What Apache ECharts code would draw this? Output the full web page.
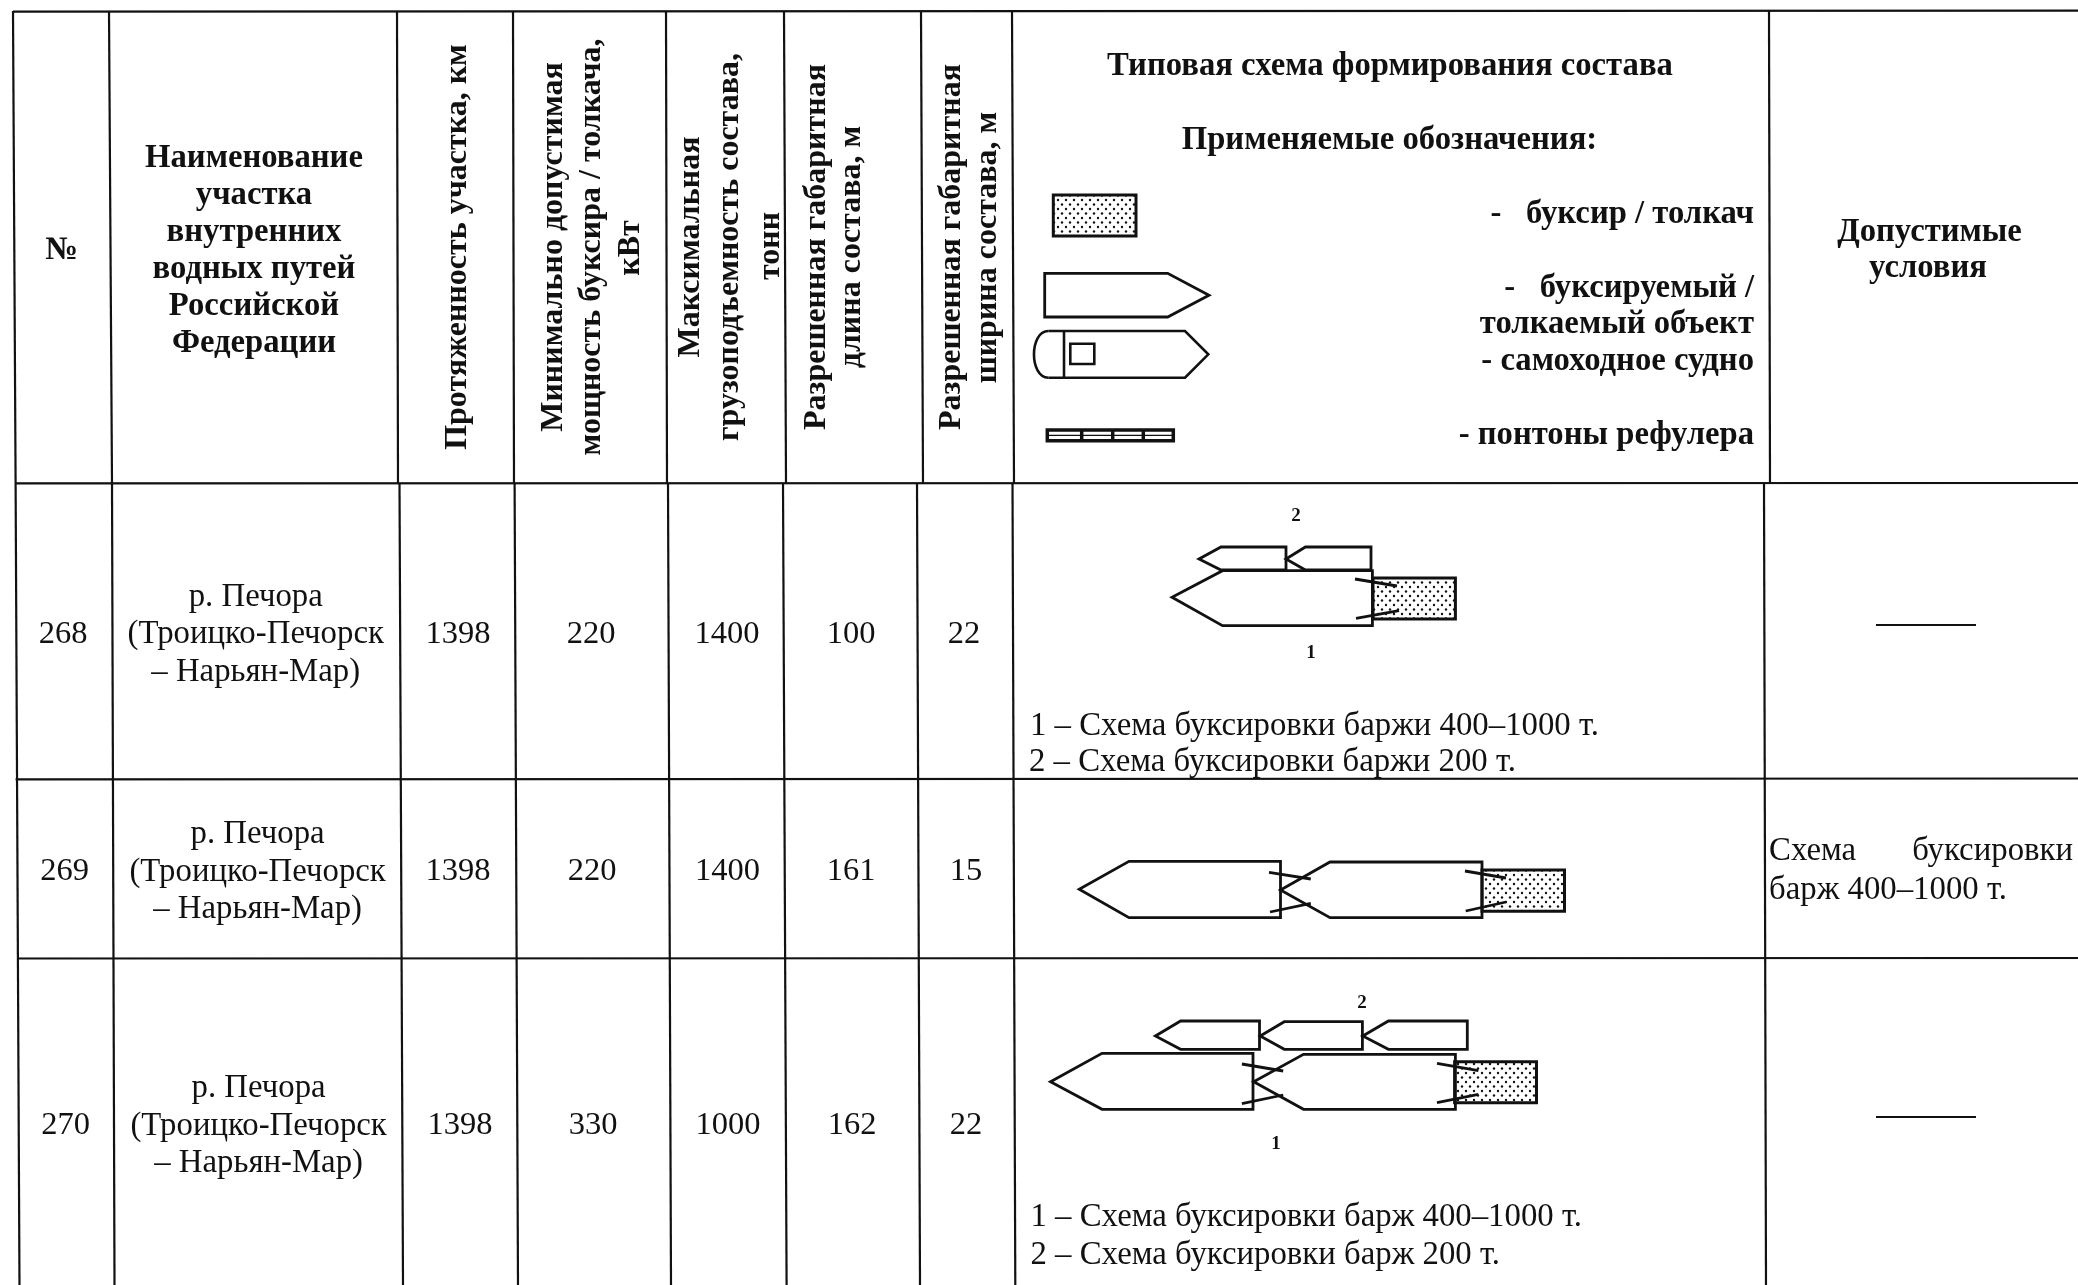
<!DOCTYPE html>
<html>
<head>
<meta charset="utf-8">
<title>Типовая схема формирования состава</title>
<script src="https://cdn.jsdelivr.net/npm/echarts@6/dist/echarts.min.js"></script>
<style>
html, body { margin: 0; padding: 0; background: #fff; }
#chart { width: 2078px; height: 1285px; }
</style>
</head>
<body>
<div id="chart"></div>
<script>
// table content
var rowNumbers = ['268', '269', '270'];
var sectionLines = ['р. Печора', '(Троицко-Печорск', '– Нарьян-Мар)'];
var lengthKm = ['1398', '1398', '1398'];
var minPower = ['220', '220', '330'];
var maxTonnage = ['1400', '1400', '1000'];
var allowedLength = ['100', '161', '162'];
var allowedWidth = ['22', '15', '22'];
var headerName = ['Наименование', 'участка', 'внутренних', 'водных путей', 'Российской', 'Федерации'];
var headerVertical = [
  'Протяженность участка, км',
  'Минимально допустимая', 'мощность буксира / толкача,', 'кВт',
  'Максимальная', 'грузоподъемность состава,', 'тонн',
  'Разрешенная габаритная', 'длина состава, м',
  'Разрешенная габаритная', 'ширина состава, м'
];
var headerAllowed = ['Допустимые', 'условия'];
var legendLabels = ['-   буксир / толкач', '-   буксируемый /', 'толкаемый объект', '- самоходное судно', '- понтоны рефулера'];
var schemeNotes = [
  '1 – Схема буксировки баржи 400–1000 т.', '2 – Схема буксировки баржи 200 т.',
  '1 – Схема буксировки барж 400–1000 т.', '2 – Схема буксировки барж 200 т.'
];

// layout of the sheet, in sheet units (axis values)
var rowY = [634, 871.5, 1125.5];
var rowColumnX = [
  [63, 255.7, 458, 591, 727, 851, 964],
  [64.5, 257.6, 458, 592, 727.5, 851, 966],
  [65.7, 258.6, 460, 593, 728, 852, 966]
];
var verticalX = [458, 554, 591.5, 630.5, 691, 730, 771, 817, 852, 951.5, 988];
var verticalY = [247, 247, 247, 248, 247, 247, 246, 247, 247, 247, 247.5];
var headerNameY = [158.5, 195.5, 232.5, 269.5, 306.5, 343.5];
var legendLabelY = [215, 289, 324.5, 362, 436];
var noteAnchors = [[1030, 726], [1029, 762], [1030.5, 1217.5], [1030.5, 1255]];

// rules: x1, y1, x2, y2
var tableRules = [
  [13, 11.7, 2078, 10.7], [15, 483.3, 2078, 483], [15.6, 779.3, 2078, 778.5], [17, 958.5, 2078, 958],
  [13, 11, 15.6, 483], [109, 11, 112, 483], [397, 11, 398, 483], [513, 11, 514, 483],
  [666, 11, 667, 483], [784, 11, 786, 483], [921, 11, 923, 483], [1012, 11, 1014, 483], [1769, 11, 1770, 483],
  [15.6, 483, 19.5, 1285], [112, 483, 114.5, 1285], [399.5, 483, 403, 1285], [514.6, 483, 518, 1285],
  [668, 483, 671, 1285], [783, 483, 786.6, 1285], [917, 483, 920, 1285], [1012.5, 483, 1015.3, 1285],
  [1764, 483, 1766, 1285]
];
var dashes = [[1876, 625, 1976, 625], [1876, 1117, 1976, 1117]];

// barges: tipX, tipY, shoulderX, sternX, topY, bottomY
var barges = [
  [1209, 295.3, 1167.7, 1044.7, 273.3, 317],
  [1172, 597.3, 1222.5, 1372.4, 570.7, 625.7],
  [1199, 559, 1221, 1286, 547, 570],
  [1286, 559, 1305.4, 1371, 547, 570],
  [1079.2, 889.3, 1129, 1280.5, 861.3, 917.7],
  [1280.5, 890, 1330, 1482, 862, 917.7],
  [1050.5, 1081.7, 1102, 1253, 1053.3, 1109.3],
  [1253.7, 1081.7, 1303.5, 1455.4, 1054.3, 1109.3],
  [1155.4, 1036, 1180.6, 1259.5, 1021, 1049.3],
  [1260.2, 1036, 1284.3, 1362.4, 1021.7, 1049.3],
  [1362.8, 1036, 1388.4, 1467.3, 1021, 1049.3]
];
// tugs: left, top, right, bottom
var tugs = [
  [1053.3, 195, 1136, 236],
  [1373, 578, 1455.4, 619],
  [1482, 870, 1564.5, 911.3],
  [1454.6, 1061.7, 1536.5, 1102.7]
];
var cables = [
  [1355, 579, 1397, 586], [1356, 618.3, 1399, 610.7],
  [1269, 872.3, 1310.8, 879], [1270, 912, 1310.8, 903.3], [1465, 871, 1506, 878], [1465.7, 911, 1506, 902],
  [1241.9, 1064, 1283.2, 1071], [1241.9, 1103.7, 1283.2, 1095], [1437, 1063.3, 1478.4, 1070.7], [1437, 1102.7, 1478.4, 1094.3]
];
var schemeMarks = [['2', 1296, 516], ['1', 1311, 653], ['2', 1362, 1003], ['1', 1276, 1144]];

var INK = '#111';
var FONT = '"Liberation Serif", "Times New Roman", serif';
var SIZE_HEAD = 32.7, SIZE_VERT = 32, SIZE_BODY = 32.8, SIZE_NUM = 32.5;

// dotted fill of the tug
function dotPattern() {
  var c = document.createElement('canvas');
  c.width = 8; c.height = 9;
  var g = c.getContext('2d');
  g.fillStyle = '#fff';
  g.fillRect(0, 0, 8, 9);
  g.fillStyle = '#111';
  g.beginPath(); g.arc(2, 2, 1.2, 0, Math.PI * 2); g.fill();
  g.beginPath(); g.arc(6, 6.5, 1.2, 0, Math.PI * 2); g.fill();
  return c;
}
var dots = dotPattern();

// flat list of text items: text, x, y, font size, weight, align, rotated
var textItems = [];
function addText(t, x, y, size, weight, align, rot) {
  textItems.push([t, x, y, size, weight, align || 'center', rot ? 1 : 0]);
}
addText('№', 62, 251, SIZE_HEAD, 'bold');
headerName.forEach(function (t, i) { addText(t, 254, headerNameY[i], SIZE_HEAD, 'bold'); });
headerVertical.forEach(function (t, i) { addText(t, verticalX[i], verticalY[i], SIZE_VERT, 'bold', 'center', true); });
addText('Типовая схема формирования состава', 1390, 67, SIZE_HEAD, 'bold');
addText('Применяемые обозначения:', 1389.5, 141, SIZE_HEAD, 'bold');
legendLabels.forEach(function (t, i) { addText(t, 1754, legendLabelY[i], SIZE_HEAD, 'bold', 'right'); });
addText(headerAllowed[0], 1929.5, 232.5, SIZE_HEAD, 'bold');
addText(headerAllowed[1], 1928, 269, SIZE_HEAD, 'bold');
rowNumbers.forEach(function (n, r) {
  var xs = rowColumnX[r], y = rowY[r];
  addText(n, xs[0], y, SIZE_NUM);
  sectionLines.forEach(function (t, i) { addText(t, xs[1], y + 0.6 + (i - 1) * 37.3, SIZE_BODY); });
  addText(lengthKm[r], xs[2], y, SIZE_NUM);
  addText(minPower[r], xs[3], y, SIZE_NUM);
  addText(maxTonnage[r], xs[4], y, SIZE_NUM);
  addText(allowedLength[r], xs[5], y, SIZE_NUM);
  addText(allowedWidth[r], xs[6], y, SIZE_NUM);
});
schemeNotes.forEach(function (t, i) { addText(t, noteAnchors[i][0], noteAnchors[i][1], SIZE_BODY, 'normal', 'left'); });
schemeMarks.forEach(function (m) { addText(m[0], m[1], m[2], 19, 'bold'); });
addText('Схема', 1769, 851, SIZE_BODY, 'normal', 'left');
addText('буксировки', 2073, 851, SIZE_BODY, 'normal', 'right');
addText('барж 400–1000 т.', 1769, 890, SIZE_BODY, 'normal', 'left');

function ruleSeries(list, width) {
  return {
    type: 'custom', silent: true, data: list.map(function (_, i) { return [i]; }),
    encode: { x: 0 },
    renderItem: function (params, api) {
      var r = list[params.dataIndex];
      var a = api.coord([r[0], r[1]]), b = api.coord([r[2], r[3]]);
      return { type: 'line', shape: { x1: a[0], y1: a[1], x2: b[0], y2: b[1] }, style: { stroke: INK, lineWidth: width, fill: null } };
    }
  };
}

var option = {
  animation: false,
  backgroundColor: '#fff',
  grid: { left: 0, right: 0, top: 0, bottom: 0 },
  xAxis: { type: 'value', min: 0, max: 2078, show: false },
  yAxis: { type: 'value', min: 0, max: 1285, inverse: true, show: false },
  series: [
    ruleSeries(tableRules, 2.2),
    ruleSeries(dashes, 2),
    {
      type: 'custom', silent: true, data: tugs.map(function (_, i) { return [i]; }),
      renderItem: function (params, api) {
        var t = tugs[params.dataIndex];
        var a = api.coord([t[0], t[1]]), b = api.coord([t[2], t[3]]);
        return {
          type: 'rect', shape: { x: a[0], y: a[1], width: b[0] - a[0], height: b[1] - a[1] },
          style: { fill: { image: dots, repeat: 'repeat' }, stroke: INK, lineWidth: 3 }
        };
      }
    },
    {
      type: 'custom', silent: true, data: barges.map(function (_, i) { return [i]; }),
      renderItem: function (params, api) {
        var b = barges[params.dataIndex];
        var pts = [[b[3], b[4]], [b[2], b[4]], [b[0], b[1]], [b[2], b[5]], [b[3], b[5]]].map(function (p) { return api.coord(p); });
        return { type: 'polygon', shape: { points: pts }, style: { fill: null, stroke: INK, lineWidth: 2.8 } };
      }
    },
    ruleSeries(cables, 2.8),
    {
      // self-propelled vessel and refuler pontoons in the legend
      type: 'custom', silent: true, data: [[0]],
      renderItem: function (params, api) {
        var c = function (x, y) { return api.coord([x, y]); };
        var s = { fill: null, stroke: INK, lineWidth: 2.6 };
        var l = function (x1, y1, x2, y2, w) {
          var a = c(x1, y1), b = c(x2, y2);
          return { type: 'line', shape: { x1: a[0], y1: a[1], x2: b[0], y2: b[1] }, style: { stroke: INK, lineWidth: w || 2.6 } };
        };
        var arcA = c(1048.3, 331), arcB = c(1048.3, 377.7), cp1 = c(1029.2, 331), cp2 = c(1029.2, 377.7);
        var cab = c(1070.3, 343.7), cabEnd = c(1094.3, 364);
        var pon = c(1047.3, 430), ponEnd = c(1173.3, 440.7);
        return {
          type: 'group',
          children: [
            { type: 'polyline', shape: { points: [c(1048.3, 331), c(1185, 331), c(1208.3, 354.3), c(1185, 377.7), c(1048.3, 377.7)] }, style: s },
            { type: 'bezierCurve', shape: { x1: arcA[0], y1: arcA[1], cpx1: cp1[0], cpy1: cp1[1], cpx2: cp2[0], cpy2: cp2[1], x2: arcB[0], y2: arcB[1] }, style: s },
            l(1064, 331, 1064, 377.7),
            { type: 'rect', shape: { x: cab[0], y: cab[1], width: cabEnd[0] - cab[0], height: cabEnd[1] - cab[1] }, style: s },
            { type: 'rect', shape: { x: pon[0], y: pon[1], width: ponEnd[0] - pon[0], height: ponEnd[1] - pon[1] }, style: { fill: null, stroke: INK, lineWidth: 3.5 } },
            l(1047.3, 435.3, 1173.3, 435.3, 1.2),
            l(1081.7, 430, 1081.7, 440.7, 3.5), l(1112.7, 430, 1112.7, 440.7, 3.5), l(1143.3, 430, 1143.3, 440.7, 3.5)
          ]
        };
      }
    },
    {
      type: 'custom', silent: true, data: textItems.map(function (_, i) { return [i]; }),
      renderItem: function (params, api) {
        var t = textItems[params.dataIndex];
        var p = api.coord([t[1], t[2]]);
        return {
          type: 'text', x: p[0], y: p[1], rotation: t[6] ? Math.PI / 2 : 0,
          style: {
            text: t[0], fill: INK, align: t[5], verticalAlign: 'middle',
            font: (t[4] === 'bold' ? 'bold ' : '') + t[3] + 'px ' + FONT
          }
        };
      }
    }
  ]
};

var chart = echarts.init(document.getElementById('chart'), null, { renderer: 'canvas' });
chart.setOption(option);
</script>
</body>
</html>
